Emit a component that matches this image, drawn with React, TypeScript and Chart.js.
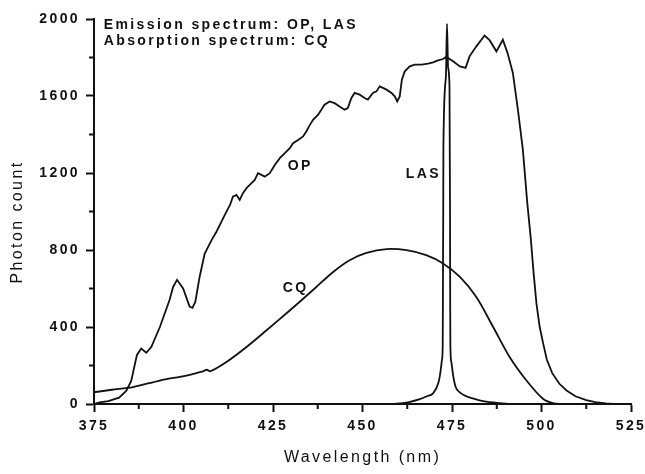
import React, { useEffect, useRef } from 'react';
import { Chart, registerables } from 'chart.js';

Chart.register(...registerables);

// ---- Data ----
const opWavelength = [
  375, 376.6, 379, 382, 384, 385.4, 386.4, 387, 388.2, 389.6, 391, 393.4, 396.1, 397.1, 398.2, 399.9,
  401.7, 402.5, 403.3, 404.5, 405.9, 407.8, 409.2, 410.6, 412, 413, 413.8, 414.8, 415.7, 416.6,
  417.6, 419, 419.9, 420.8, 421.8, 422.7, 424.1, 425.5, 426.9, 428.3, 429.7, 430.6, 432, 433.4,
  434.3, 435.3, 436.2, 437.6, 438.5, 439.4, 440.8, 442.2, 443.6, 445, 445.9, 446.9, 447.8, 449.2,
  450.6, 451.5, 452.9, 453.9, 454.8, 455.7, 456.7, 458.1, 459, 459.7, 460.4, 461, 461.8, 463.2,
  464.6, 466.5, 468.3, 469.7, 471.1, 472.5, 473.4, 475.3, 477.2, 478.8, 479.9, 481.8, 484.1, 485.5,
  487.4, 489.2, 490.5, 492, 493.4, 494.8, 496, 497, 497.8, 498.6, 499.5, 500.4, 501.5, 503, 505,
  507, 509.5, 512.5, 515, 518, 520,
];
const opCount = [
  0, 8, 15, 33, 68, 120, 205, 255, 288, 266, 296, 400, 540, 608, 645, 600,
  506, 500, 530, 660, 780, 850, 895, 947, 999, 1034, 1077, 1086, 1060, 1095,
  1121, 1147, 1164, 1199, 1190, 1181, 1199, 1242, 1277, 1303, 1329, 1355, 1372, 1390,
  1416, 1450, 1476, 1503, 1529, 1555, 1572, 1563, 1546, 1529, 1537, 1590, 1616, 1607,
  1590, 1581, 1616, 1624, 1650, 1642, 1633, 1616, 1598, 1572, 1598, 1685, 1728, 1754,
  1763, 1763, 1768, 1775, 1785, 1792, 1803, 1780, 1754, 1746, 1806, 1858, 1914, 1890,
  1832, 1892, 1824, 1720, 1530, 1320, 1050, 860, 680, 520, 400, 320, 230, 160, 105,
  70, 40, 20, 10, 3, 0,
];

const lasWavelength = [
  459, 463, 466, 468, 469.7, 471.2, 471.8, 472.2, 472.4, 472.45, 472.55, 472.6, 473.3, 473.6,
  473.9, 474.3, 474.45, 474.5, 474.55, 474.8, 475.3, 476, 477.2, 479, 481, 483, 486.5, 490, 493,
];
const lasCount = [
  0, 10, 25, 40, 55, 110, 170, 230, 300, 500, 1000, 1335, 1700, 1975,
  1750, 1650, 1000, 500, 300, 220, 150, 90, 60, 40, 28, 18, 8, 2, 0,
];

const cqWavelength = [
  375, 380, 385.9, 393.4, 400.8, 405.4, 406.5, 407.5, 412, 417.6, 423.2, 428.7, 432.4, 437.1,
  441.8, 446.4, 451.1, 456.7, 462.3, 467.8, 472.5, 477.2, 481.8, 486.5, 491.1, 495.8, 500.4,
  503.2, 506,
];
const cqCount = [
  61, 74, 88, 122, 148, 170, 178, 170, 218, 296, 383, 470, 530, 608,
  686, 747, 785, 805, 799, 773, 730, 660, 556, 400, 244, 122, 27,
  4, 0,
];

const xTickValues = [375, 400, 425, 450, 475, 500, 525];
const yTickValues = [0, 400, 800, 1200, 1600, 2000];
const xMinorTickValues = [387.5, 412.5, 437.5, 462.5, 487.5, 512.5];
const yMinorTickValues = [200, 600, 1000, 1400, 1800];

const curveLabels = ['OP', 'LAS', 'CQ'];
const curveLabelNm = [429.1, 462.1, 427.7];
const curveLabelCount = [1216, 1174, 580];

const noteLines = ['Emission spectrum: OP, LAS', 'Absorption spectrum: CQ'];
const noteNm = 377.7;
const noteCount = [1950, 1867];

const xTitle = 'Wavelength (nm)';
const yTitle = 'Photon count';

// ---- Styles ----
const INK = '#111111';
const FONT = '"Liberation Sans", Arial, sans-serif';
const SPACING = '2.4px';

const toPoints = (xs: number[], ys: number[]) => xs.map((x, i) => ({ x, y: ys[i] }));

const spacingPlugin = {
  id: 'spacing',
  beforeLayout(chart: any) {
    chart.ctx.letterSpacing = SPACING;
  },
  beforeDraw(chart: any) {
    chart.ctx.letterSpacing = SPACING;
    const { ctx, width, height } = chart;
    ctx.save();
    ctx.fillStyle = '#ffffff';
    ctx.fillRect(0, 0, width, height);
    ctx.restore();
  },
};

const decorPlugin = {
  id: 'decor',
  afterDraw(chart: any) {
    const { ctx, chartArea } = chart;
    const xs = chart.scales.x;
    const ys = chart.scales.y;
    ctx.save();
    ctx.letterSpacing = SPACING;
    ctx.strokeStyle = INK;
    ctx.lineWidth = 2;
    // minor ticks
    ctx.beginPath();
    xMinorTickValues.forEach((v) => {
      const px = xs.getPixelForValue(v);
      ctx.moveTo(px, chartArea.bottom);
      ctx.lineTo(px, chartArea.bottom + 5);
    });
    yMinorTickValues.forEach((v) => {
      const py = ys.getPixelForValue(v);
      ctx.moveTo(chartArea.left, py);
      ctx.lineTo(chartArea.left - 5, py);
    });
    ctx.stroke();

    ctx.fillStyle = INK;
    ctx.textAlign = 'left';
    ctx.textBaseline = 'alphabetic';
    ctx.font = `bold 14px ${FONT}`;
    curveLabels.forEach((t, i) => {
      ctx.fillText(t, xs.getPixelForValue(curveLabelNm[i]), ys.getPixelForValue(curveLabelCount[i]));
    });
    noteLines.forEach((t, i) => {
      ctx.fillText(t, xs.getPixelForValue(noteNm), ys.getPixelForValue(noteCount[i]));
    });

    // axis titles
    ctx.font = `16px ${FONT}`;
    ctx.textAlign = 'center';
    ctx.textBaseline = 'middle';
    ctx.fillText(xTitle, (chartArea.left + chartArea.right) / 2, 458);
    ctx.save();
    ctx.translate(18, 222);
    ctx.rotate(-Math.PI / 2);
    ctx.fillText(yTitle, 0, 0);
    ctx.restore();
    ctx.restore();
  },
};

export default function App() {
  const canvasRef = useRef<HTMLCanvasElement | null>(null);

  useEffect(() => {
    if (!canvasRef.current) return;
    const lineStyle = {
      borderColor: INK,
      borderWidth: 1.8,
      pointRadius: 0,
      fill: false,
    };
    const chart = new Chart(canvasRef.current, {
      type: 'line',
      data: {
        datasets: [
          { label: 'OP', data: toPoints(opWavelength, opCount), ...lineStyle, tension: 0 },
          { label: 'LAS', data: toPoints(lasWavelength, lasCount), ...lineStyle, cubicInterpolationMode: 'monotone' },
          { label: 'CQ', data: toPoints(cqWavelength, cqCount), ...lineStyle, tension: 0.3 },
        ] as any,
      },
      options: {
        animation: false,
        responsive: false,
        maintainAspectRatio: false,
        layout: { padding: { top: 19, right: 14, left: 0, bottom: 0 } },
        plugins: {
          legend: { display: false },
          tooltip: { enabled: false },
          title: { display: false },
        },
        scales: {
          x: {
            type: 'linear',
            min: 375,
            max: 525,
            afterBuildTicks: (s: any) => {
              s.ticks = xTickValues.map((v) => ({ value: v }));
            },
            afterFit: (s: any) => {
              s.height = 70;
              s.paddingLeft = 0;
              s.paddingRight = 0;
            },
            ticks: {
              color: INK,
              font: { family: FONT, size: 14, weight: 'bold' },
              padding: 6,
              maxRotation: 0,
              autoSkip: false,
              callback: (v: any) => String(v),
            },
            grid: {
              display: true,
              drawOnChartArea: false,
              drawTicks: true,
              tickLength: 8,
              tickWidth: 2,
              tickColor: INK,
            },
            border: { display: true, color: INK, width: 2 },
          },
          y: {
            type: 'linear',
            min: 0,
            max: 2000,
            afterBuildTicks: (s: any) => {
              s.ticks = yTickValues.map((v) => ({ value: v }));
            },
            afterFit: (s: any) => {
              s.width = 94;
              s.paddingTop = 0;
              s.paddingBottom = 0;
            },
            ticks: {
              color: INK,
              font: { family: FONT, size: 14, weight: 'bold' },
              padding: 6,
              autoSkip: false,
              callback: (v: any) => String(v),
            },
            grid: {
              display: true,
              drawOnChartArea: false,
              drawTicks: true,
              tickLength: 8,
              tickWidth: 2,
              tickColor: INK,
            },
            border: { display: true, color: INK, width: 2 },
          },
        },
      } as any,
      plugins: [spacingPlugin, decorPlugin],
    });
    return () => chart.destroy();
  }, []);

  return (
    <div style={{ position: 'fixed', left: 0, top: 0, width: 645, height: 474, background: '#fff' }}>
      <canvas ref={canvasRef} width={645} height={474} style={{ display: 'block' }} />
    </div>
  );
}
